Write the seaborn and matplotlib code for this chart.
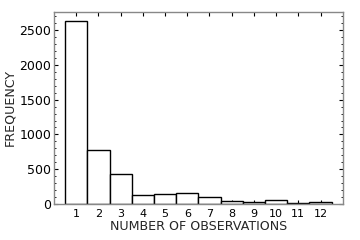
import matplotlib
matplotlib.use("Agg")
import matplotlib.pyplot as plt
import seaborn as sns
import numpy as np
from matplotlib.ticker import MultipleLocator

observations = [1, 2, 3, 4, 5, 6, 7, 8, 9, 10, 11, 12]
frequency = [2635, 772, 427, 127, 144, 153, 96, 43, 24, 57, 8, 29]

sns.set_style("ticks")
plt.rcParams['font.family'] = ['DejaVu Sans']

fig, ax = plt.subplots(figsize=(3.6, 2.4), dpi=100)
sns.histplot(x=observations, weights=frequency, discrete=True, ax=ax,
             color="white", edgecolor="black", linewidth=1.0, alpha=1)
ax.set_xlim(0, 13)
ax.set_ylim(0, 2760)
ax.set_xticks(observations)
ax.set_yticks([0, 500, 1000, 1500, 2000, 2500])
ax.yaxis.set_minor_locator(MultipleLocator(100))
ax.tick_params(axis='both', which='both', direction='in', top=True, right=True, colors='black')
ax.tick_params(axis='x', which='major', labelsize=8, length=3)
ax.tick_params(axis='y', which='major', labelsize=9, length=3, pad=2)
ax.tick_params(axis='y', which='minor', length=1.5)
for s in ax.spines.values():
    s.set_color('#888888')
    s.set_linewidth(1.0)
ax.set_xlabel("NUMBER OF OBSERVATIONS", fontsize=9.1, labelpad=1)
ax.set_ylabel("FREQUENCY", fontsize=9.1)
fig.subplots_adjust(left=0.15, right=0.952, top=0.95, bottom=0.15)
ax.yaxis.set_label_coords(-0.13, 0.5)
fig.savefig("out.png", dpi=100)
